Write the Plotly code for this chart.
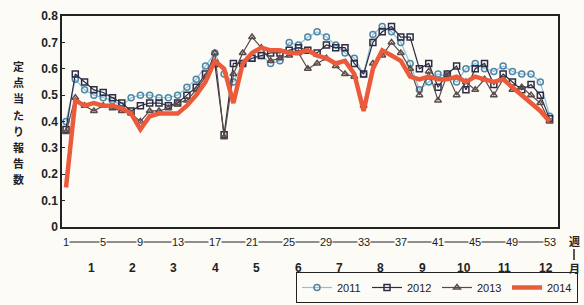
import plotly.graph_objects as go

weeks = list(range(1, 54))

y2011 = [0.40, 0.56, 0.52, 0.50, 0.49, 0.48, 0.46, 0.49, 0.50, 0.50,
         0.49, 0.49, 0.50, 0.53, 0.56, 0.61, 0.66, 0.58, 0.55, 0.62,
         0.64, 0.65, 0.62, 0.63, 0.70, 0.69, 0.72, 0.74, 0.72, 0.69,
         0.66, 0.64, 0.58, 0.73, 0.76, 0.74, 0.70, 0.62, 0.52, 0.55,
         0.58, 0.57, 0.55, 0.60, 0.62, 0.60, 0.59, 0.61, 0.59, 0.58,
         0.58, 0.55, 0.42]
y2012 = [0.37, 0.58, 0.55, 0.52, 0.51, 0.49, 0.47, 0.44, 0.46, 0.47,
         0.47, 0.46, 0.47, 0.50, 0.53, 0.58, 0.62, 0.35, 0.62, 0.62,
         0.64, 0.65, 0.66, 0.66, 0.67, 0.68, 0.67, 0.66, 0.69, 0.68,
         0.68, 0.62, 0.58, 0.70, 0.74, 0.76, 0.72, 0.72, 0.60, 0.62,
         0.53, 0.58, 0.61, 0.52, 0.60, 0.62, 0.54, 0.58, 0.55, 0.52,
         0.54, 0.50, 0.41]
y2013 = [0.36, 0.49, 0.46, 0.44, 0.46, 0.45, 0.44, 0.43, 0.40, 0.44,
         0.44, 0.45, 0.47, 0.48, 0.52, 0.57, 0.66, 0.34, 0.58, 0.66,
         0.72, 0.68, 0.63, 0.64, 0.65, 0.66, 0.60, 0.62, 0.64, 0.61,
         0.58, 0.57, 0.46, 0.62, 0.65, 0.70, 0.66, 0.60, 0.50, 0.59,
         0.48, 0.58, 0.50, 0.55, 0.52, 0.56, 0.50, 0.56, 0.52, 0.53,
         0.50, 0.47, 0.40]
y2014 = [0.15, 0.48, 0.46, 0.47, 0.46, 0.46, 0.45, 0.43, 0.37, 0.42,
         0.43, 0.43, 0.43, 0.46, 0.50, 0.55, 0.63, 0.60, 0.47, 0.62,
         0.66, 0.68, 0.67, 0.67, 0.66, 0.66, 0.67, 0.65, 0.64, 0.62,
         0.63, 0.58, 0.44, 0.60, 0.67, 0.65, 0.63, 0.57, 0.56, 0.57,
         0.56, 0.56, 0.57, 0.55, 0.57, 0.56, 0.55, 0.56, 0.53, 0.50,
         0.47, 0.44, 0.40]

week_ticks = [1, 5, 9, 13, 17, 21, 25, 29, 33, 37, 41, 45, 49, 53]
month_labels = ["1", "2", "3", "4", "5", "6", "7", "8", "9", "10", "11", "12"]
month_centers = [3.7, 8.15, 12.6, 17.05, 21.5, 25.95, 30.4, 34.85, 39.3, 43.75, 48.2, 52.6]
y_ticks = [0, 0.1, 0.2, 0.3, 0.4, 0.5, 0.6, 0.7, 0.8]
y_ticktext = ["0", "0.1", "0.2", "0.3", "0.4", "0.5", "0.6", "0.7", "0.8"]
ytitle = "定点当たり報告数"

BG = "#fcfbf6"
FONT = "Liberation Sans"
XR = [0.57, 53.9]
W, H = 584, 305
ML, MR, MT, MB = 62, 26, 16, 78
PW, PH = W - ML - MR, H - MT - MB

def px2paper_y(py):
    return (H - MB - py) / PH

def px2paper_x(px):
    return (px - ML) / PW

fig = go.Figure()
fig.add_trace(go.Scatter(x=weeks, y=y2011, name="2011", mode="lines+markers",
                         line=dict(color="#8cc0dc", width=1.2),
                         marker=dict(symbol="circle-open", size=6, color="#4f86a8",
                                     line=dict(width=1.5))))
fig.add_trace(go.Scatter(x=weeks, y=y2012, name="2012", mode="lines+markers",
                         line=dict(color="#2c2c44", width=1.2),
                         marker=dict(symbol="square-open", size=6, color="#2c2c44",
                                     line=dict(width=1.5))))
fig.add_trace(go.Scatter(x=weeks, y=y2013, name="2013", mode="lines+markers",
                         line=dict(color="#5a4a4a", width=1.2),
                         marker=dict(symbol="triangle-up-open", size=6, color="#5a4a4a",
                                     line=dict(width=1.5))))
fig.add_trace(go.Scatter(x=weeks, y=y2014, name="2014", mode="lines",
                         line=dict(color="#ec5a3c", width=4.5)))

def xpaper(w):
    return (w - XR[0]) / (XR[1] - XR[0])

wk_y = px2paper_y(242)
mo_y = px2paper_y(268)
shapes = [dict(type="line", xref="paper", yref="paper",
               x0=xpaper(week_ticks[0]), x1=xpaper(week_ticks[-1]),
               y0=wk_y, y1=wk_y, line=dict(color="#222", width=1), layer="below")]
rx = px2paper_x(574)
shapes.append(dict(type="line", xref="paper", yref="paper", x0=rx, x1=rx,
                   y0=px2paper_y(249), y1=px2paper_y(260), line=dict(color="#222", width=1.5)))

ann = []
for w in week_ticks:
    ann.append(dict(x=w, y=wk_y, xref="x", yref="paper", text=str(w), showarrow=False,
                    font=dict(family=FONT, size=11, color="#222"), bgcolor=BG,
                    borderpad=0, xanchor="center", yanchor="middle"))
for m, c in zip(month_labels, month_centers):
    ann.append(dict(x=c, y=mo_y, xref="x", yref="paper", text=m, showarrow=False,
                    font=dict(family=FONT, size=12, color="#222", weight="bold"),
                    xanchor="center", yanchor="middle"))
ann.append(dict(x=rx, y=px2paper_y(241), xref="paper", yref="paper", text="週", showarrow=False,
                font=dict(family="Noto Sans CJK JP", size=11, color="#222", weight="bold"),
                xanchor="center", yanchor="middle"))
ann.append(dict(x=rx, y=px2paper_y(268), xref="paper", yref="paper", text="月", showarrow=False,
                font=dict(family="Noto Sans CJK JP", size=11, color="#222", weight="bold"),
                xanchor="center", yanchor="middle"))
for i, ch in enumerate(ytitle):
    ann.append(dict(x=px2paper_x(18), y=px2paper_y(66 + i * 16.2), xref="paper", yref="paper",
                    text=ch, showarrow=False,
                    font=dict(family="Noto Sans CJK JP", size=11, color="#222", weight="bold"),
                    xanchor="center", yanchor="middle"))

fig.update_layout(
    width=W, height=H,
    margin=dict(l=ML, r=MR, t=MT, b=MB, autoexpand=False),
    paper_bgcolor=BG, plot_bgcolor=BG,
    font=dict(family=FONT, color="#222"),
    shapes=shapes, annotations=ann,
    showlegend=True,
    legend=dict(orientation="h", x=px2paper_x(578), xanchor="right",
                y=px2paper_y(303), yanchor="bottom",
                bordercolor="#222", borderwidth=1, bgcolor=BG,
                font=dict(family=FONT, size=11, color="#222"),
                tracegroupgap=0, itemwidth=30, entrywidth=25),
)
fig.update_xaxes(range=XR, showticklabels=False, ticks="", showgrid=False, zeroline=False,
                 showline=True, mirror=True, linecolor="#222", linewidth=1.5)
fig.update_yaxes(range=[0, 0.8], tickvals=y_ticks, ticktext=y_ticktext, showgrid=False,
                 zeroline=False, showline=True, mirror=True, linecolor="#222", linewidth=1.5,
                 ticks="inside", ticklen=3, tickcolor="#222",
                 tickfont=dict(family=FONT, size=12, color="#222", weight="bold"))

fig.write_html("out.html", config={"displayModeBar": False},
               post_script="document.body.style.margin='0';document.body.style.overflow='hidden';")
